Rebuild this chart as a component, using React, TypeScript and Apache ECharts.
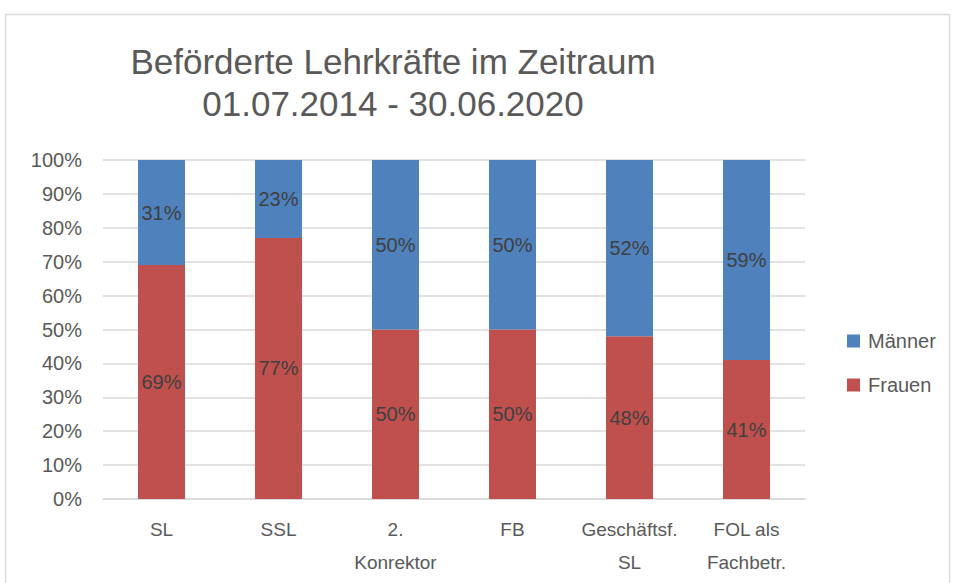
import React, { useEffect, useRef } from "react";
import * as echarts from "echarts";

const categories = ["SL", "SSL", "2.\nKonrektor", "FB", "Geschäftsf.\nSL", "FOL als\nFachbetr."];
const frauen = [69, 77, 50, 50, 48, 41];
const maenner = [31, 23, 50, 50, 52, 59];
const titleLines = ["Beförderte Lehrkräfte im Zeitraum", "01.07.2014 - 30.06.2020"];

const FONT = "'Liberation Sans', Arial, sans-serif";

export default function App() {
  const ref = useRef<HTMLDivElement>(null);
  useEffect(() => {
    document.body.style.margin = "0";
    const chart = echarts.init(ref.current!, null, { renderer: "svg" });
    chart.setOption({
      animation: false,
      backgroundColor: "#ffffff",
      textStyle: { fontFamily: FONT },
      title: {
        text: titleLines.join("\n"),
        left: 388,
        top: 35,
        textAlign: "center",
        textStyle: { fontFamily: FONT, fontSize: 35, fontWeight: "normal", color: "#595959", lineHeight: 42 },
      },
      graphic: [
        {
          type: "rect",
          shape: { x: 5.5, y: 14.5, width: 944, height: 620 },
          style: { fill: "none", stroke: "#d9d9d9", lineWidth: 1.5 },
          silent: true,
        },
      ],
      legend: {
        orient: "vertical",
        left: 847,
        top: 331,
        padding: 0,
        itemWidth: 13,
        itemHeight: 13,
        itemGap: 24,
        icon: "rect",
        data: ["Männer", "Frauen"],
        textStyle: { fontFamily: FONT, fontSize: 20, color: "#595959", padding: [0, 0, 0, 3] },
      },
      grid: { left: 103, right: 152, top: 160, bottom: 84, containLabel: false },
      xAxis: {
        type: "category",
        data: categories,
        axisLine: { lineStyle: { color: "#d9d9d9", width: 1.5 } },
        axisTick: { show: false },
        axisLabel: { interval: 0, fontFamily: FONT, fontSize: 19, color: "#595959", lineHeight: 33, margin: 14 },
      },
      yAxis: {
        type: "value",
        min: 0,
        max: 100,
        interval: 10,
        axisLine: { show: false },
        axisTick: { show: false },
        axisLabel: { formatter: "{value}%", fontFamily: FONT, fontSize: 20, color: "#595959", margin: 21 },
        splitLine: { lineStyle: { color: "#d9d9d9", width: 1.5 } },
      },
      series: [
        {
          name: "Frauen",
          type: "bar",
          stack: "total",
          data: frauen,
          barWidth: 47,
          itemStyle: { color: "#C0504D" },
          label: { show: true, position: "inside", formatter: "{c}%", fontFamily: FONT, fontSize: 20, color: "#404040" },
        },
        {
          name: "Männer",
          type: "bar",
          stack: "total",
          data: maenner,
          barWidth: 47,
          itemStyle: { color: "#4F81BD" },
          label: { show: true, position: "inside", formatter: "{c}%", fontFamily: FONT, fontSize: 20, color: "#404040" },
        },
      ],
    });
    return () => chart.dispose();
  }, []);
  return <div ref={ref} style={{ width: 957, height: 583 }} />;
}
